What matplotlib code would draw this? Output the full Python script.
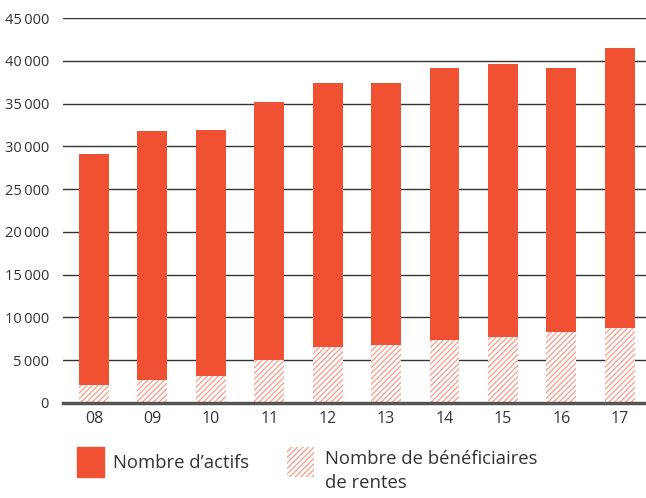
import matplotlib.pyplot as plt
from matplotlib.patches import Rectangle
import numpy as np

years = ['08', '09', '10', '11', '12', '13', '14', '15', '16', '17']
rentes = [2100, 2700, 3150, 5000, 6550, 6800, 7350, 7700, 8300, 8750]
actifs = [27000, 29100, 28750, 30200, 30850, 30600, 31800, 31950, 30850, 32750]
yticks = [0, 5000, 10000, 15000, 20000, 25000, 30000, 35000, 40000, 45000]

RED = '#f05133'
HATCH = '#f7a493'
TEXT = '#333333'

plt.rcParams['font.family'] = ['Open Sans', 'DejaVu Sans']
plt.rcParams['hatch.linewidth'] = 1.0
plt.rcParams['hatch.color'] = HATCH

fig = plt.figure(figsize=(6.46, 4.98), dpi=100)
ax = fig.add_axes([63 / 646, 1 - 403 / 498, 1 - 63 / 646, (403 - 18) / 498])

x = np.arange(len(years))
ax.bar(x, rentes, width=0.51, color='white', edgecolor=HATCH, linewidth=0,
       hatch='//////', zorder=3)
ax.bar(x, actifs, width=0.51, bottom=rentes, color=RED, linewidth=0, zorder=3)

ax.set_xlim(-0.53, 9.45)
ax.set_ylim(0, 45000)
ax.set_yticks(yticks)
ax.set_yticklabels([f'{v:,}'.replace(',', '\u2009') if v else '0' for v in yticks])
ax.set_xticks(x)
ax.set_xticklabels(years)
ax.grid(axis='y', color='#333333', linewidth=1, zorder=0)
ax.set_axisbelow(True)
for s in ['top', 'right', 'left']:
    ax.spines[s].set_visible(False)
ax.spines['bottom'].set_color('#555555')
ax.spines['bottom'].set_linewidth(2.5)
ax.spines['bottom'].set_zorder(4)
ax.tick_params(axis='both', length=0, colors=TEXT)
ax.tick_params(axis='y', pad=10, labelsize=10.5)
ax.tick_params(axis='x', pad=6, labelsize=11.5)

# legend
W, H = 646, 498
fig.patches.append(Rectangle((77 / W, 1 - 477 / H), 27 / W, 30 / H,
                             transform=fig.transFigure, color=RED))
fig.patches.append(Rectangle((287 / W, 1 - 477 / H), 27 / W, 30 / H,
                             transform=fig.transFigure, facecolor='white',
                             edgecolor=HATCH, linewidth=0, hatch='//////'))
fig.text(113 / W, 1 - 463 / H, 'Nombre d\u2019actifs', fontsize=13.3,
         color=TEXT, va='center', ha='left')
fig.text(325 / W, 1 - 450 / H, 'Nombre de bénéficiaires\nde rentes',
         fontsize=13.3, color=TEXT, va='top', ha='left', linespacing=1.45)

fig.savefig('out.png', dpi=100)
